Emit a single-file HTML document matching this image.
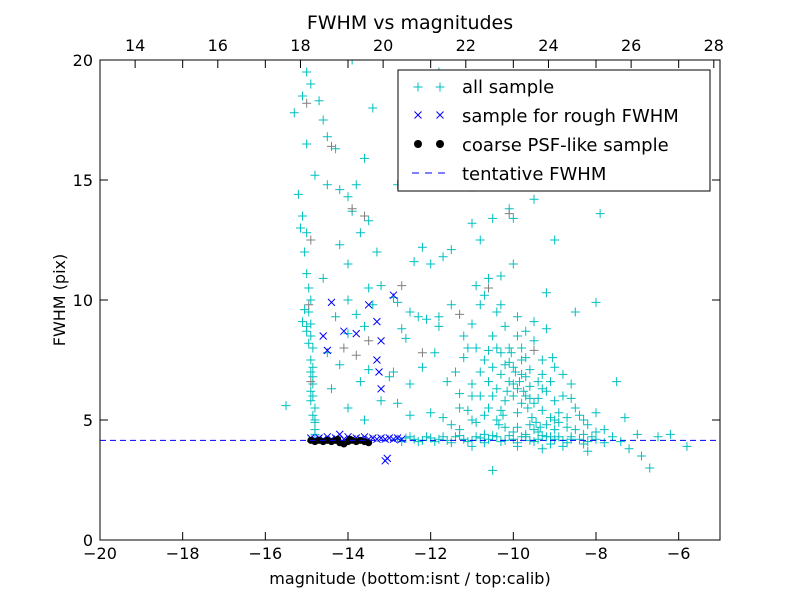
<!DOCTYPE html>
<html><head><meta charset="utf-8"><style>
body{margin:0;background:#fff;}
svg{display:block;font-family:"DejaVu Sans","Liberation Sans",sans-serif;}
</style></head><body>
<svg id="chart" width="800" height="600">
<rect width="800" height="600" fill="#fff"/>
<g id="marks"></g>
<rect x="100" y="60" width="620" height="480" fill="none" stroke="#000" stroke-width="1"/>
<g id="axes"></g>
<text x="410" y="29" font-size="19" text-anchor="middle">FWHM vs magnitudes</text>
<text x="410" y="584" font-size="16" text-anchor="middle">magnitude (bottom:isnt / top:calib)</text>
<text transform="translate(65,300) rotate(-90)" font-size="16" text-anchor="middle">FWHM (pix)</text>
<g>
<rect x="398" y="70" width="312" height="121" fill="#fff" stroke="#000"/>
<g id="legmarks"></g>
<text x="462" y="93" font-size="18">all sample</text>
<text x="462" y="122" font-size="18">sample for rough FWHM</text>
<text x="462" y="151" font-size="18">coarse PSF-like sample</text>
<text x="462" y="180" font-size="18">tentative FWHM</text>
</g>
</svg>
<script>
const xTicks=[-20,-18,-16,-14,-12,-10,-8,-6];
const topTicks=[14,16,18,20,22,24,26,28];
const yTicks=[0,5,10,15,20];
const topOffset=33.15;
const tentativeFWHM=4.15;
const allSample=[[-15.3,17.8],[-15.2,14.4],[-15.1,13.5],[-15.0,12.8],[-15.0,11.1],[-14.95,10.5],[-15.1,9.1],[-15.0,8.9],[-14.9,8.5],[-14.9,7.0],[-14.85,6.5],[-14.85,6.0],[-14.8,5.5],[-14.8,5.0],[-14.8,4.6],[-15.5,5.6],[-15.0,19.5],[-14.9,19.0],[-14.7,18.3],[-14.6,17.5],[-14.5,16.8],[-14.3,16.3],[-14.5,14.8],[-14.2,14.6],[-14.0,14.3],[-14.8,15.2],[-15.0,16.5],[-14.9,10.0],[-14.95,9.5],[-14.9,7.5],[-14.85,6.8],[-14.85,8.0],[-15.0,8.7],[-14.9,5.8],[-14.85,5.2],[-14.8,4.9],[-14.8,4.4],[-14.85,7.2],[-14.9,9.0],[-15.05,12.0],[-15.15,13.0],[-15.1,18.5],[-14.9,6.2],[-14.95,8.2],[-15.05,9.6],
[-14.2,12.3],[-14.0,11.5],[-14.6,10.9],[-14.3,9.3],[-14.0,8.6],[-13.8,9.4],[-13.6,8.9],[-13.4,9.8],[-13.2,10.6],[-13.7,12.8],[-13.5,13.3],[-13.3,12.0],[-13.9,13.7],[-13.6,15.9],[-13.8,14.8],[-13.4,18.0],[-13.9,20.0],[-12.8,14.8],[-12.2,12.2],[-12.4,11.6],[-12.0,11.5],[-11.5,12.1],[-11.7,11.8],[-12.5,9.5],[-12.3,9.3],[-12.6,8.4],[-12.1,9.2],[-11.8,9.3],[-12.9,7.0],[-13.0,6.8],[-12.5,6.5],[-12.2,7.2],[-13.5,7.1],[-13.7,6.6],[-13.2,5.8],[-12.8,5.7],[-12.0,5.3],[-11.5,4.8],[-11.0,6.5],[-11.3,5.5],[-11.7,5.1],[-11.6,6.6],[-12.5,5.2],[-14.0,5.5],[-13.6,5.0],[-14.2,7.3],[-14.4,6.3],[-14.5,7.8],[-14.0,10.0],[-13.5,10.5],[-12.9,10.1],[-12.7,8.8],[-12.8,9.9],[-12.2,16.3],[-11.8,19.5],[-11.6,15.0],[-11.0,14.7],[-11.0,13.2],[-10.8,12.5],[-10.5,13.4],[-10.1,13.8],[-10.0,13.4],[-9.5,14.2],[-9.0,12.5],[-9.2,10.3],[-8.5,9.5],[-8.0,9.9],[-7.9,13.6],[-7.5,6.6],[-7.3,5.1],
[-11.2,8.5],[-11.0,9.0],[-10.8,9.8],[-10.6,10.9],[-10.3,11.0],[-10.0,11.5],[-10.4,9.5],[-10.2,8.9],[-9.9,9.3],[-9.7,8.7],[-9.5,8.3],[-9.3,7.5],[-9.0,7.2],[-8.8,6.9],[-8.6,5.9],[-8.4,5.2],[-8.2,4.8],[-8.0,4.5],[-10.9,8.0],[-10.7,7.5],[-10.5,7.2],[-10.3,6.9],[-10.1,6.6],[-9.9,6.3],[-9.7,6.0],[-9.5,5.7],[-9.3,5.4],[-9.1,5.1],[-8.9,4.9],[-8.7,4.7],[-10.8,6.0],[-10.6,5.5],[-10.4,5.0],[-10.2,4.7],[-10.0,4.5],[-9.8,7.5],[-9.6,7.1],[-9.4,6.6],[-9.2,6.2],[-9.0,5.8],[-10.1,8.0],[-9.8,8.0],[-10.3,7.8],[-10.5,8.5],[-11.4,7.0],[-11.3,6.1],[-11.1,5.4],[-10.9,4.9],[-10.0,6.0],[-9.9,5.3],[-9.6,4.8],[-9.4,4.5],[-10.2,5.8],[-10.4,6.3],[-9.7,6.8],[-10.0,7.2],[-9.5,9.1],[-9.2,8.8],[-10.7,10.2],[-11.5,9.8],[-11.8,8.9],[-11.9,7.8],[-10.6,6.6],[-9.8,5.7],[-8.5,5.5],[-8.3,5.0],[-9.0,4.6],[-8.0,5.3],[-7.8,4.6],[-7.6,4.3],[-7.0,4.4],[-6.5,4.3],[-6.7,3.0],[-6.2,4.4],[-5.8,3.9],[-7.2,3.8],[-8.2,3.7],[-9.3,3.8],[-10.5,2.9],[-11.0,3.9],[-8.8,3.9],[-9.9,3.9],[-6.9,3.5],[-9.6,6.4],[-10.1,7.4],[-9.3,6.9],[-10.3,5.4],[-9.1,4.3],[-8.6,4.2],[-10.7,4.4],
[-10.05,7.8],[-9.95,7.0],[-9.85,6.6],[-9.75,6.2],[-9.65,5.5],[-9.55,5.1],[-9.45,4.9],[-9.35,4.7],[-10.15,6.2],[-10.25,5.2],[-10.35,4.8],[-9.9,4.7],[-9.7,4.4],[-9.5,4.6],[-9.2,4.8],[-8.9,5.3],[-8.7,5.1],[-8.5,4.6],[-8.3,4.4],[-8.1,4.3],[-9.0,5.0],[-9.8,6.9],[-10.0,6.5],[-10.2,7.3],[-9.6,5.9],[-9.4,5.9],[-9.3,6.3],[-9.1,6.6],[-10.6,7.9],[-10.8,7.0],[-11.0,6.0],[-11.2,7.6],[-10.4,8.0],[-9.9,8.5],[-9.7,7.6],[-10.5,6.0],[-10.7,5.2],[-11.0,5.0],[-11.3,4.6],[-8.6,6.5],[-8.8,6.0],[-9.05,7.6],[-10.9,10.6],[-10.3,9.8],[-11.1,8.0],
[-12.8,4.2],[-12.6,4.25],[-12.4,4.2],[-12.2,4.15],[-12.0,4.25],[-11.8,4.2],[-11.6,4.15],[-11.4,4.3],[-11.2,4.2],[-11.0,4.15],[-10.8,4.25],[-10.6,4.2],[-10.4,4.3],[-10.2,4.15],[-10.0,4.2],[-9.8,4.3],[-9.6,4.15],[-9.4,4.2],[-9.2,4.3],[-9.0,4.2],[-8.8,4.15],[-8.6,4.3],[-8.4,4.2],[-8.2,4.1],[-8.0,4.2],[-7.8,4.05],[-7.4,4.1],[-12.7,4.1],[-12.3,4.1],[-11.9,4.1],[-11.5,4.05],[-11.1,4.1],[-10.7,4.05],[-10.3,4.1],[-9.9,4.05],[-9.5,4.1],[-9.1,4.0],[-8.7,4.05],[-8.3,4.0],[-12.5,4.3],[-12.1,4.3],[-11.7,4.3],[-11.3,4.35],[-10.9,4.3],[-10.5,4.35],[-10.1,4.35],[-9.7,4.3],[-9.3,4.35],[-8.9,4.3]];
const graySample=[[-15.0,18.2],[-14.9,12.5],[-14.95,9.8],[-14.9,6.6],[-14.4,16.4],[-13.9,13.8],[-13.6,13.5],[-14.1,8.0],[-13.8,7.7],[-12.7,10.6],[-11.3,9.4],[-10.6,10.5],[-10.1,13.6],[-9.5,7.9],[-13.5,8.3],[-12.2,7.8]];
const roughSample=[[-14.4,9.9],[-14.6,8.5],[-14.5,7.9],[-14.1,8.7],[-13.8,8.6],[-13.5,9.8],[-13.3,9.1],[-13.2,8.3],[-13.3,7.5],[-13.25,7.0],[-13.2,6.3],[-12.9,10.2],[-13.1,3.3],[-13.05,3.4],
[-14.9,4.25],[-14.8,4.2],[-14.7,4.25],[-14.6,4.2],[-14.5,4.3],[-14.4,4.2],[-14.3,4.25],[-14.2,4.4],[-14.1,4.2],[-14.0,4.3],[-13.9,4.2],[-13.8,4.25],[-13.7,4.2],[-13.6,4.3],[-13.5,4.2],[-13.4,4.25],[-13.3,4.2],[-13.2,4.25],[-13.1,4.2],[-13.0,4.25],[-12.9,4.2],[-12.8,4.25],[-12.7,4.2]];
const psfSample=[[-14.9,4.15],[-14.8,4.1],[-14.7,4.15],[-14.6,4.1],[-14.5,4.15],[-14.4,4.1],[-14.3,4.15],[-14.2,4.05],[-14.1,4.0],[-14.0,4.1],[-13.9,4.15],[-13.8,4.1],[-13.7,4.15],[-13.6,4.1],[-13.5,4.05],[-14.25,4.2],[-13.95,4.2]];

const X=v=>100+(v+20)*620/15;
const Y=v=>540-v*24;
const NS="http://www.w3.org/2000/svg";
function mk(tag,attrs,parent){const e=document.createElementNS(NS,tag);for(const k in attrs)e.setAttribute(k,attrs[k]);parent.appendChild(e);return e;}
const marks=document.getElementById('marks');
const clip=mk('clipPath',{id:'cp'},marks);mk('rect',{x:100,y:60,width:620,height:480},clip);
const g=mk('g',{'clip-path':'url(#cp)'},marks);
function plus(x,y,c,p){return mk('path',{d:`M${x-4.5},${y}H${x+4.5}M${x},${y-4.5}V${y+4.5}`,stroke:c,'stroke-width':1,fill:'none'},p);}
function cross(x,y,c,p){return mk('path',{d:`M${x-3.5},${y-3.5}L${x+3.5},${y+3.5}M${x-3.5},${y+3.5}L${x+3.5},${y-3.5}`,stroke:c,'stroke-width':1,fill:'none'},p);}
allSample.forEach(d=>{const e=plus(X(d[0]),Y(d[1]),'#00bfbf',g);

});
graySample.forEach(d=>{const e=plus(X(d[0]),Y(d[1]),'#808080',g);

});
roughSample.forEach(d=>{const e=cross(X(d[0]),Y(d[1]),'#0000ff',g);

});
psfSample.forEach(d=>{const e=mk('circle',{cx:X(d[0]),cy:Y(d[1]),r:3.5,fill:'#000'},g);

});
const tl=mk('line',{x1:100,x2:720,y1:Y(tentativeFWHM),y2:Y(tentativeFWHM),stroke:'#0000ff','stroke-dasharray':'6,4'},g);



const ax=document.getElementById('axes');
xTicks.forEach(t=>{const x=X(t);
mk('path',{d:`M${x},540v-8M${x},60v8`,stroke:'#000'},ax);
const e=mk('text',{x:x,y:559,'font-size':16,'text-anchor':'middle'},ax);e.textContent=(t<0?'\u2212'+(-t):t);

});
topTicks.forEach(t=>{const x=X(t-topOffset);
mk('path',{d:`M${x},60v8`,stroke:'#000'},ax);
const e=mk('text',{x:x,y:51,'font-size':16,'text-anchor':'middle'},ax);e.textContent=t;

});
yTicks.forEach(t=>{const y=Y(t);
mk('path',{d:`M100,${y}h8M720,${y}h-8`,stroke:'#000'},ax);
const e=mk('text',{x:93,y:y+6,'font-size':16,'text-anchor':'end'},ax);e.textContent=t;

});

const lm=document.getElementById('legmarks');
plus(418,87,'#00bfbf',lm);plus(440,87,'#00bfbf',lm);
cross(418,115,'#0000ff',lm);cross(440,115,'#0000ff',lm);
mk('circle',{cx:418,cy:144,r:4,fill:'#000'},lm);mk('circle',{cx:440,cy:144,r:4,fill:'#000'},lm);
mk('line',{x1:412,x2:446,y1:173,y2:173,stroke:'#0000ff','stroke-dasharray':'7,6'},lm);
</script>
</body></html>
